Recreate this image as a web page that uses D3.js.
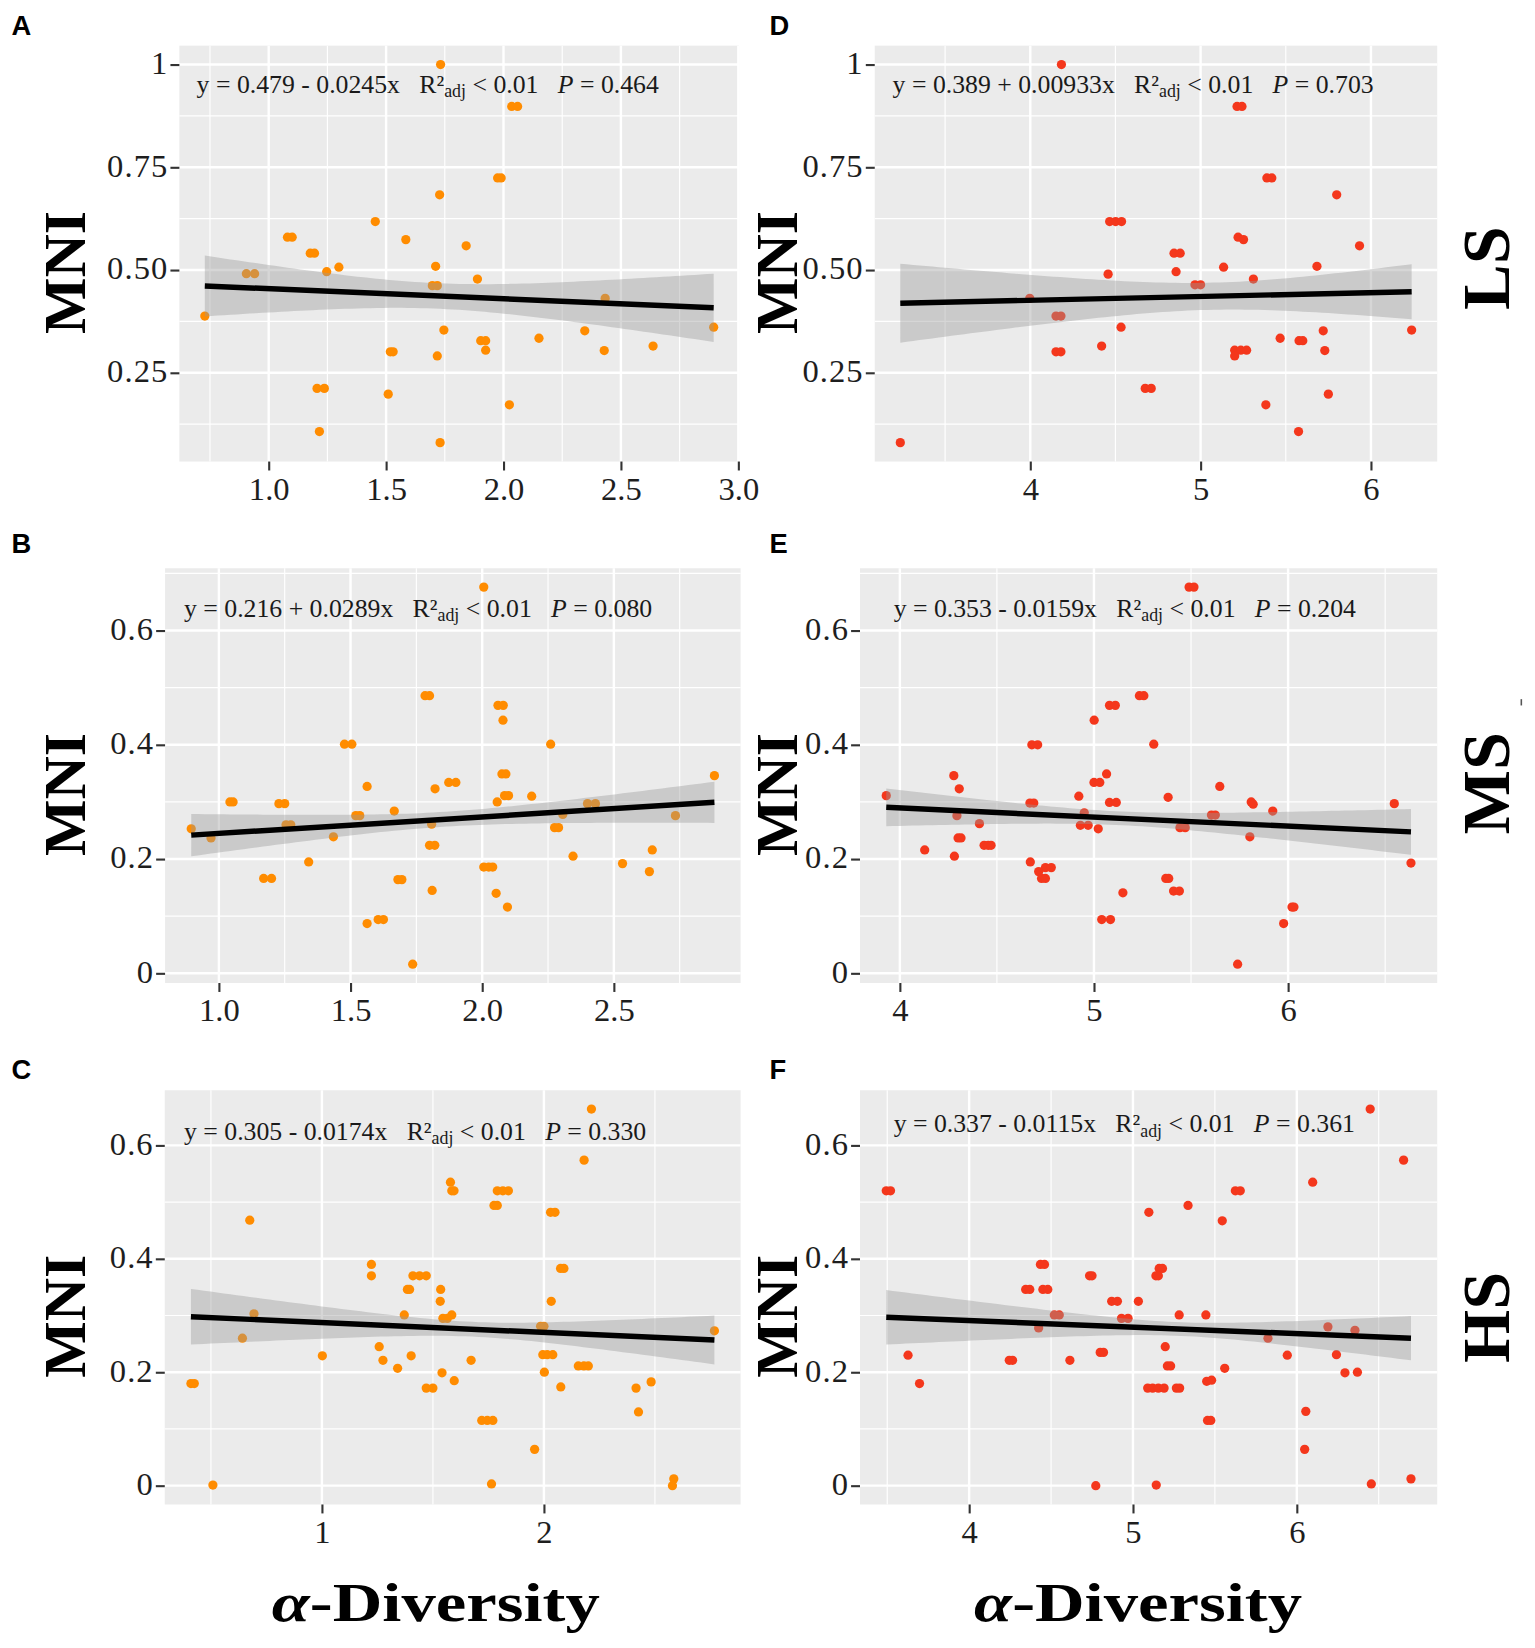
<!DOCTYPE html>
<html>
<head>
<meta charset="utf-8">
<script src="https://cdn.jsdelivr.net/npm/d3@7"></script>
<style>
body { margin: 0; background: #fff; }
</style>
</head>
<body>
<div id="fig"></div>
<script>

// points, [alpha diversity, MNI]
var ptsA = [[1.732,1.000],[2.035,0.898],[2.060,0.898],[1.975,0.724],[1.990,0.724],[1.728,0.683],[1.454,0.618],[1.080,0.580],[1.100,0.580],[1.584,0.574],[1.841,0.559],[1.177,0.541],[1.195,0.541],[1.299,0.507],[1.711,0.509],[1.247,0.496],[0.905,0.491],[0.940,0.491],[1.889,0.478],[1.697,0.462],[1.718,0.462],[2.433,0.431],[0.728,0.388],[2.895,0.361],[1.746,0.354],[2.346,0.352],[2.151,0.334],[1.903,0.328],[1.924,0.328],[1.924,0.305],[1.518,0.301],[1.530,0.301],[2.429,0.304],[2.637,0.315],[1.718,0.291],[1.206,0.212],[1.237,0.212],[1.509,0.198],[2.025,0.172],[1.216,0.107],[1.730,0.080]];
var ptsB = [[2.006,0.676],[1.783,0.486],[1.800,0.486],[2.060,0.469],[2.080,0.469],[2.079,0.443],[1.477,0.401],[1.505,0.401],[2.260,0.401],[2.075,0.349],[2.090,0.349],[2.882,0.346],[1.563,0.327],[1.821,0.323],[1.873,0.334],[1.900,0.334],[1.042,0.300],[1.054,0.300],[1.228,0.297],[1.250,0.297],[2.085,0.311],[2.100,0.311],[2.188,0.310],[2.057,0.300],[2.400,0.297],[2.430,0.297],[1.520,0.276],[1.535,0.276],[1.666,0.284],[2.306,0.278],[2.734,0.276],[0.895,0.253],[1.255,0.260],[1.273,0.260],[1.808,0.261],[2.275,0.255],[2.290,0.255],[0.970,0.237],[1.435,0.239],[1.800,0.224],[1.820,0.224],[2.345,0.205],[1.341,0.195],[2.533,0.192],[2.646,0.216],[1.170,0.166],[1.200,0.166],[1.680,0.164],[1.695,0.164],[2.006,0.186],[2.025,0.186],[2.040,0.186],[2.635,0.178],[1.810,0.145],[2.053,0.140],[2.096,0.116],[1.605,0.094],[1.625,0.094],[1.563,0.087],[1.736,0.016]];
var ptsC = [[2.214,0.664],[2.181,0.574],[1.579,0.535],[1.585,0.520],[1.595,0.520],[1.790,0.520],[1.815,0.520],[1.840,0.520],[1.775,0.494],[1.790,0.494],[2.030,0.482],[2.050,0.482],[0.675,0.468],[1.223,0.390],[2.075,0.383],[2.090,0.383],[1.223,0.370],[1.410,0.370],[1.440,0.370],[1.470,0.370],[1.385,0.346],[1.395,0.346],[1.535,0.346],[1.533,0.325],[2.033,0.325],[0.694,0.303],[1.371,0.301],[1.545,0.295],[1.565,0.295],[1.585,0.301],[0.642,0.260],[1.985,0.281],[2.000,0.281],[2.768,0.273],[1.258,0.245],[1.002,0.229],[1.402,0.229],[1.275,0.221],[1.672,0.221],[1.995,0.231],[2.015,0.231],[2.040,0.231],[1.341,0.207],[2.155,0.211],[2.180,0.211],[2.200,0.211],[2.002,0.200],[1.541,0.199],[0.410,0.180],[0.425,0.180],[1.596,0.185],[1.470,0.172],[1.500,0.172],[2.076,0.174],[2.415,0.172],[2.483,0.183],[2.426,0.130],[1.720,0.115],[1.745,0.115],[1.770,0.115],[1.958,0.064],[0.509,0.001],[1.764,0.003],[2.585,0.012],[2.579,0.000]];
var ptsD = [[4.183,1.000],[5.214,0.898],[5.243,0.898],[5.389,0.724],[5.418,0.724],[5.799,0.683],[4.466,0.618],[4.501,0.618],[4.536,0.618],[5.220,0.580],[5.252,0.574],[5.933,0.559],[4.844,0.541],[4.880,0.541],[5.135,0.507],[5.683,0.509],[4.856,0.496],[4.457,0.490],[5.310,0.478],[4.967,0.464],[5.000,0.464],[3.997,0.431],[4.151,0.388],[4.180,0.388],[4.533,0.361],[6.239,0.354],[5.720,0.352],[5.467,0.334],[5.578,0.328],[5.600,0.328],[4.419,0.315],[4.151,0.301],[4.180,0.301],[5.200,0.305],[5.236,0.305],[5.270,0.305],[5.200,0.291],[5.729,0.304],[4.675,0.212],[4.710,0.212],[5.750,0.198],[5.383,0.172],[5.575,0.107],[3.237,0.080]];
var ptsE = [[5.490,0.676],[5.515,0.676],[5.234,0.486],[5.257,0.486],[5.080,0.469],[5.110,0.469],[5.001,0.443],[4.680,0.400],[4.710,0.400],[5.308,0.401],[5.065,0.349],[4.278,0.346],[5.000,0.334],[5.030,0.334],[5.648,0.327],[4.306,0.323],[3.930,0.311],[4.922,0.310],[5.382,0.308],[4.670,0.298],[4.690,0.298],[5.080,0.299],[5.115,0.299],[5.810,0.300],[5.820,0.296],[6.547,0.297],[5.921,0.284],[4.950,0.281],[5.605,0.277],[5.625,0.277],[4.294,0.276],[4.410,0.262],[4.930,0.259],[4.970,0.259],[5.022,0.253],[5.443,0.255],[5.470,0.255],[5.803,0.239],[4.300,0.237],[4.315,0.237],[4.434,0.224],[4.455,0.224],[4.470,0.224],[4.128,0.216],[4.281,0.205],[4.672,0.195],[6.633,0.193],[4.750,0.185],[4.780,0.185],[4.715,0.178],[4.730,0.166],[4.750,0.166],[5.370,0.166],[5.385,0.166],[5.410,0.144],[5.440,0.144],[5.149,0.141],[6.020,0.116],[6.030,0.116],[5.040,0.094],[5.085,0.094],[5.977,0.087],[5.740,0.016]];
var ptsF = [[6.448,0.664],[6.652,0.574],[6.097,0.535],[3.494,0.520],[3.520,0.520],[5.625,0.520],[5.655,0.520],[5.336,0.494],[5.097,0.482],[5.545,0.467],[4.435,0.390],[4.460,0.390],[5.160,0.383],[5.180,0.383],[4.735,0.370],[4.750,0.370],[5.140,0.370],[5.155,0.370],[4.345,0.346],[4.370,0.346],[4.450,0.346],[4.480,0.346],[4.870,0.325],[4.905,0.325],[5.033,0.325],[4.520,0.301],[4.550,0.301],[5.282,0.301],[5.445,0.301],[4.930,0.295],[4.970,0.295],[4.424,0.278],[6.190,0.280],[6.355,0.274],[5.824,0.260],[5.197,0.245],[3.627,0.230],[5.942,0.230],[6.242,0.231],[4.245,0.221],[4.265,0.221],[4.615,0.221],[4.800,0.235],[4.820,0.235],[5.210,0.211],[5.230,0.211],[5.560,0.207],[6.294,0.199],[6.370,0.200],[3.697,0.180],[5.450,0.184],[5.480,0.186],[5.090,0.172],[5.120,0.172],[5.155,0.172],[5.190,0.172],[5.265,0.172],[5.285,0.172],[5.455,0.115],[5.475,0.115],[6.055,0.131],[6.048,0.064],[4.773,0.000],[5.142,0.001],[6.455,0.003],[6.697,0.012]];

// panels in order A B C D E F
var panelTags = ["A", "B", "C", "D", "E", "F"];
var panelPoints = [ptsA, ptsB, ptsC, ptsD, ptsE, ptsF];
var intercepts = ["0.479", "0.216", "0.305", "0.389", "0.353", "0.337"];
var slopes = ["-0.0245", "+0.0289", "-0.0174", "+0.00933", "-0.0159", "-0.0115"];
var pValues = ["0.464", "0.080", "0.330", "0.703", "0.204", "0.361"];
// confidence band: x where it is narrowest, half widths at left end / narrowest / right end
var bandCentre = [1.72, 1.85, 1.68, 5.06, 5.13, 5.28];
var bandHalf = [[0.074, 0.031, 0.083], [0.037, 0.013, 0.036], [0.049, 0.013, 0.043],
	[0.096, 0.033, 0.067], [0.033, 0.012, 0.040], [0.048, 0.012, 0.039]];
var xTicks = [[1.0, 1.5, 2.0, 2.5, 3.0], [1.0, 1.5, 2.0, 2.5], [1, 2], [4, 5, 6], [4, 5, 6], [4, 5, 6]];
var xTickLabels = [["1.0", "1.5", "2.0", "2.5", "3.0"], ["1.0", "1.5", "2.0", "2.5"], ["1", "2"],
	["4", "5", "6"], ["4", "5", "6"], ["4", "5", "6"]];
var yTicks = [[0.25, 0.5, 0.75, 1], [0, 0.2, 0.4, 0.6], [0, 0.2, 0.4, 0.6],
	[0.25, 0.5, 0.75, 1], [0, 0.2, 0.4, 0.6], [0, 0.2, 0.4, 0.6]];
var yTickLabels = [["0.25", "0.50", "0.75", "1"], ["0", "0.2", "0.4", "0.6"], ["0", "0.2", "0.4", "0.6"],
	["0.25", "0.50", "0.75", "1"], ["0", "0.2", "0.4", "0.6"], ["0", "0.2", "0.4", "0.6"]];
var groups = ["LS", "MS", "HS"];
var xTitle = "-Diversity";
var yTitle = "MNI";

var colOrange = "#FF8C00", colRed = "#F4371C";
var serif = "'Liberation Serif', 'Times New Roman', serif";
var sans = "'Liberation Sans', Arial, sans-serif";

// geometry of each panel, drawn in a 1460 wide frame
var layout = [
	{ left: 170.6, right: 703, top: 43.4, bottom: 439, eqX: 187, eqY: 88, tagX: 11, tagY: 33, titleX: 81 },
	{ left: 157, right: 704.4, top: 540.5, bottom: 935, eqX: 175, eqY: 586.5, tagX: 11, tagY: 526, titleX: 81 },
	{ left: 156.7, right: 704.4, top: 1037, bottom: 1431, eqX: 175, eqY: 1084, tagX: 11, tagY: 1026, titleX: 81 },
	{ left: 832, right: 1367, top: 43.4, bottom: 439, eqX: 849, eqY: 88, tagX: 732, tagY: 33, titleX: 758 },
	{ left: 818, right: 1367, top: 540.5, bottom: 935, eqX: 850, eqY: 586.5, tagX: 732, tagY: 526, titleX: 758 },
	{ left: 818, right: 1367, top: 1037, bottom: 1431, eqX: 850, eqY: 1077, tagX: 732, tagY: 1026, titleX: 758 }
];

function expand(ext) {
	var pad = (ext[1] - ext[0]) * 0.05;
	return [ext[0] - pad, ext[1] + pad];
}

function scatter_panel(svg, idx) {
	this.svg = svg;
	this.idx = idx;
	this.box = layout[idx];
	this.pts = panelPoints[idx];
	this.color = idx < 3 ? colOrange : colRed;
	this.init();
}

scatter_panel.prototype = {
	init : function() {
		var self = this;
		self.xext = d3.extent(self.pts, function(d) { return d[0]; });
		self.x = d3.scaleLinear()
			.domain(expand(self.xext))
			.range([self.box.left, self.box.right]);
		self.y = d3.scaleLinear()
			.domain(expand(d3.extent(self.pts, function(d) { return d[1]; })))
			.range([self.box.bottom, self.box.top]);
	},
	minors : function(ticks, scale) {
		var step = ticks[1] - ticks[0];
		var dom = scale.domain();
		var out = [];
		for (var v = ticks[0] - step / 2; v <= dom[1]; v += step) {
			if (v >= dom[0]) out.push(v);
		}
		return out;
	},
	draw : function() {
		var self = this, i = self.idx, b = self.box;
		var g = self.svg.append("g").attr("class", "panel");

		g.append("rect")
			.attr("x", b.left).attr("y", b.top)
			.attr("width", b.right - b.left).attr("height", b.bottom - b.top)
			.attr("fill", "#EBEBEB");

		var xMin = self.minors(xTicks[i], self.x);
		var yMin = self.minors(yTicks[i], self.y);
		g.selectAll("line.xminor").data(xMin).enter().append("line")
			.attr("x1", function(d) { return self.x(d); }).attr("x2", function(d) { return self.x(d); })
			.attr("y1", b.top).attr("y2", b.bottom)
			.attr("stroke", "#fff").attr("stroke-width", 1.1);
		g.selectAll("line.yminor").data(yMin).enter().append("line")
			.attr("y1", function(d) { return self.y(d); }).attr("y2", function(d) { return self.y(d); })
			.attr("x1", b.left).attr("x2", b.right)
			.attr("stroke", "#fff").attr("stroke-width", 1.1);
		g.selectAll("line.xmajor").data(xTicks[i]).enter().append("line")
			.attr("x1", function(d) { return self.x(d); }).attr("x2", function(d) { return self.x(d); })
			.attr("y1", b.top).attr("y2", b.bottom)
			.attr("stroke", "#fff").attr("stroke-width", 2.3);
		g.selectAll("line.ymajor").data(yTicks[i]).enter().append("line")
			.attr("y1", function(d) { return self.y(d); }).attr("y2", function(d) { return self.y(d); })
			.attr("x1", b.left).attr("x2", b.right)
			.attr("stroke", "#fff").attr("stroke-width", 2.3);

		// points first, the band is laid over them
		g.selectAll("circle").data(self.pts).enter().append("circle")
			.attr("cx", function(d) { return self.x(d[0]); })
			.attr("cy", function(d) { return self.y(d[1]); })
			.attr("r", 4.4)
			.attr("fill", self.color);

		var a = parseFloat(intercepts[i]), s = parseFloat(slopes[i]);
		var c = bandCentre[i], h = bandHalf[i];
		var x0 = self.xext[0], x1 = self.xext[1];
		var half = function(x) {
			var end = x < c ? x0 : x1;
			var hEnd = x < c ? h[0] : h[2];
			var k = (hEnd * hEnd - h[1] * h[1]) / ((end - c) * (end - c));
			return Math.sqrt(h[1] * h[1] + k * (x - c) * (x - c));
		};
		var xs = d3.range(0, 81).map(function(k) { return x0 + (x1 - x0) * k / 80; });
		g.append("path")
			.datum(xs)
			.attr("d", d3.area()
				.x(function(d) { return self.x(d); })
				.y0(function(d) { return self.y(a + s * d - half(d)); })
				.y1(function(d) { return self.y(a + s * d + half(d)); }))
			.attr("fill", "#999999")
			.attr("fill-opacity", 0.4);
		g.append("path")
			.datum([x0, x1])
			.attr("d", d3.line()
				.x(function(d) { return self.x(d); })
				.y(function(d) { return self.y(a + s * d); }))
			.attr("stroke", "#000")
			.attr("stroke-width", 5.2)
			.attr("fill", "none");

		// axes
		var ax = g.append("g")
			.attr("transform", "translate(0," + b.bottom + ")")
			.call(d3.axisBottom(self.x).tickValues(xTicks[i])
				.tickFormat(function(d, j) { return xTickLabels[i][j]; })
				.tickSize(8.5).tickPadding(6));
		var ay = g.append("g")
			.attr("transform", "translate(" + b.left + ",0)")
			.call(d3.axisLeft(self.y).tickValues(yTicks[i])
				.tickFormat(function(d, j) { return yTickLabels[i][j]; })
				.tickSize(8.5).tickPadding(2));
		[ax, ay].forEach(function(axis) {
			axis.select(".domain").remove();
			axis.selectAll("line").attr("stroke", "#333").attr("stroke-width", 2);
			axis.selectAll("text")
				.attr("font-family", serif)
				.attr("font-size", 31)
				.attr("fill", "#1e1e1e");
		});
		ay.selectAll("text").attr("dy", "0.27em").attr("letter-spacing", 1);

		// equation
		var eq = g.append("text")
			.attr("x", b.eqX).attr("y", b.eqY)
			.attr("font-family", serif)
			.attr("font-size", 24.5)
			.attr("fill", "#1a1a1a")
			.attr("xml:space", "preserve")
			.style("white-space", "pre");
		eq.append("tspan").text("y = " + intercepts[i] + " " + slopes[i].charAt(0) + " " + slopes[i].slice(1) + "x   R\u00B2");
		eq.append("tspan").attr("font-size", 17).attr("dy", 4).text("adj");
		eq.append("tspan").attr("dy", -4).text(" < 0.01   ");
		eq.append("tspan").attr("font-style", "italic").text("P");
		eq.append("tspan").text(" = " + pValues[i]);

		// panel letter and y title
		self.svg.append("text")
			.attr("x", b.tagX).attr("y", b.tagY)
			.attr("font-family", sans).attr("font-weight", "bold").attr("font-size", 26)
			.text(panelTags[i]);
		self.svg.append("text")
			.attr("transform", "translate(" + b.titleX + "," + ((b.top + b.bottom) / 2 + 18) + ") rotate(-90)")
			.attr("text-anchor", "middle")
			.attr("font-family", serif).attr("font-weight", "bold").attr("font-size", 57)
			.text(yTitle);
	}
};

var svg = d3.select("#fig")
	.append("svg")
	.attr("width", 1535)
	.attr("height", 1648)
	.attr("viewBox", "0 0 1460 1567.5");
svg.append("rect").attr("width", 1460).attr("height", 1567.5).attr("fill", "#fff");

for (var i = 0; i < panelTags.length; i++) {
	new scatter_panel(svg, i).draw();
}

// row labels on the right
var stripY = [255, 745, 1253];
svg.selectAll("text.strip")
	.data(groups)
	.enter()
	.append("text")
	.attr("class", "strip")
	.attr("transform", function(d, j) { return "translate(1435," + stripY[j] + ") rotate(-90)"; })
	.attr("text-anchor", "middle")
	.attr("font-family", serif).attr("font-weight", "bold").attr("font-size", 65)
	.text(function(d) { return d; });
svg.append("line")
	.attr("x1", 1447).attr("x2", 1447).attr("y1", 665).attr("y2", 671)
	.attr("stroke", "#555").attr("stroke-width", 1.5);

// x titles, stretched to the width seen in the figure
[414.5, 1082.5].forEach(function(cx) {
	var t = svg.append("text")
		.attr("text-anchor", "middle")
		.attr("font-family", serif).attr("font-weight", "bold").attr("font-size", 52);
	t.append("tspan").attr("font-style", "italic").text("\u03B1");
	t.append("tspan").text(xTitle);
	var w = t.node().getComputedTextLength();
	t.attr("transform", "translate(" + cx + ",1542) scale(" + (312 / w) + ",1)");
});

</script>
</body>
</html>
